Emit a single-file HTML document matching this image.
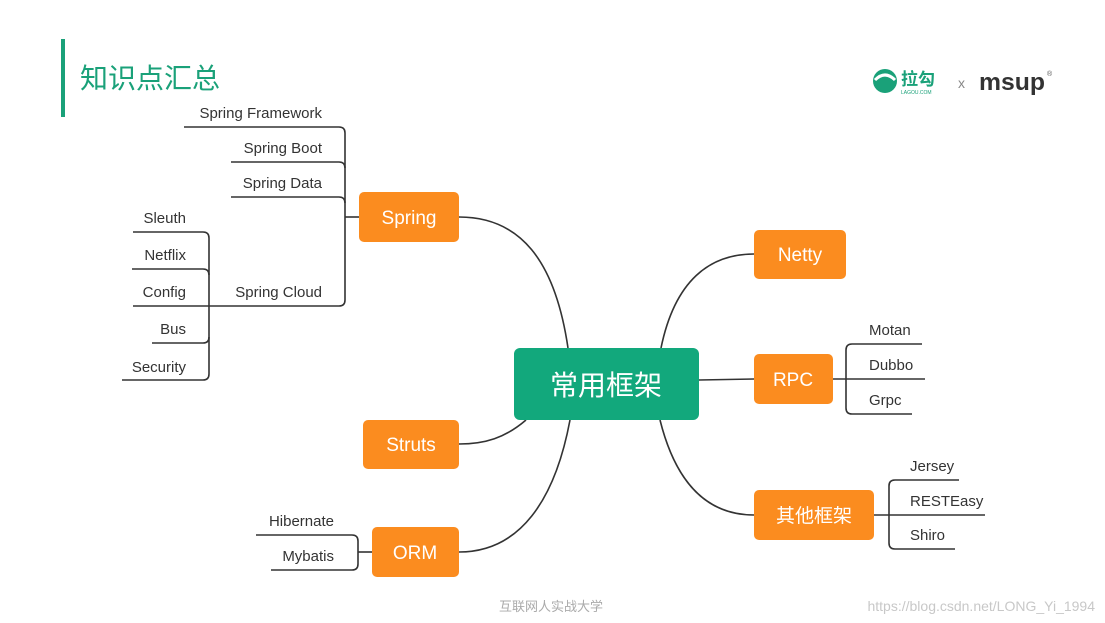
<!DOCTYPE html>
<html><head><meta charset="utf-8"><style>
html,body{margin:0;padding:0;background:#fff;width:1105px;height:623px;overflow:hidden}
svg{display:block}
text{font-family:"Liberation Sans","Noto Sans CJK SC",sans-serif}
.l{font-size:15px;fill:#333}
.b{font-size:19px;fill:#fff}
</style></head><body>
<svg width="1105" height="623" viewBox="0 0 1105 623">
<rect x="61" y="39" width="4" height="78" fill="#1aa179"/>
<text x="80" y="88" font-size="28" fill="#1aa179">知识点汇总</text>
<!-- logo -->
<circle cx="885" cy="81" r="12" fill="#1aa179"/>
<path d="M875 80 Q885 70 895 80" stroke="#fff" stroke-width="3" fill="none"/>
<text x="901" y="85" font-size="17" fill="#1aa179" font-weight="bold">拉勾</text>
<text x="901" y="94" font-size="5" fill="#1aa179">LAGOU.COM</text>
<text x="958" y="88" font-size="14" fill="#888">x</text>
<text x="979" y="90" font-size="24" fill="#333" font-weight="bold" textLength="66" lengthAdjust="spacingAndGlyphs">msup</text>
<text x="1047" y="76" font-size="7" fill="#555">®</text>

<g fill="none" stroke="#333" stroke-width="1.6">
<path d="M184 127 H339 Q345 127 345 133 V300 Q345 306 339 306 H133"/>
<path d="M231 162 H339 Q345 162 345 168"/>
<path d="M231 197 H339 Q345 197 345 203"/>
<path d="M345 217 H359"/>
<path d="M133 232 H203 Q209 232 209 238 V374 Q209 380 203 380 H122"/>
<path d="M132 269 H203 Q209 269 209 275"/>
<path d="M152 343 H203 Q209 343 209 337"/>
<path d="M256 535 H352 Q358 535 358 541 V564 Q358 570 352 570 H271"/>
<path d="M358 552 H372"/>
<path d="M922 344 H852 Q846 344 846 350 V408 Q846 414 852 414 H912"/>
<path d="M833 379 H925"/>
<path d="M959 480 H895 Q889 480 889 486 V543 Q889 549 895 549 H955"/>
<path d="M874 515 H985"/>
<path d="M568 348 C555 260 520 217 459 217"/>
<path d="M526 420 C505 438 485 444 459 444"/>
<path d="M570 420 C555 500 520 552 459 552"/>
<path d="M661 348 C675 280 710 254 754 254"/>
<path d="M699 380 L754 379"/>
<path d="M660 420 C675 480 705 515 754 515"/>
</g>

<rect x="514" y="348" width="185" height="72" rx="6" fill="#12a87c"/>
<text x="606" y="395" font-size="28" fill="#fff" text-anchor="middle">常用框架</text>

<g fill="#fb8c1f">
<rect x="359" y="192" width="100" height="50" rx="5"/>
<rect x="363" y="420" width="96" height="49" rx="5"/>
<rect x="372" y="527" width="87" height="50" rx="5"/>
<rect x="754" y="230" width="92" height="49" rx="5"/>
<rect x="754" y="354" width="79" height="50" rx="5"/>
<rect x="754" y="490" width="120" height="50" rx="5"/>
</g>
<g text-anchor="middle">
<text x="409" y="224" class="b">Spring</text>
<text x="411" y="451" class="b">Struts</text>
<text x="415" y="559" class="b">ORM</text>
<text x="800" y="261" class="b">Netty</text>
<text x="793" y="386" class="b">RPC</text>
<text x="814" y="522" class="b">其他框架</text>
</g>

<g>
<text x="322" y="118" text-anchor="end" class="l">Spring Framework</text>
<text x="322" y="153" text-anchor="end" class="l">Spring Boot</text>
<text x="322" y="188" text-anchor="end" class="l">Spring Data</text>
<text x="322" y="297" text-anchor="end" class="l">Spring Cloud</text>
<text x="186" y="223" text-anchor="end" class="l">Sleuth</text>
<text x="186" y="260" text-anchor="end" class="l">Netflix</text>
<text x="186" y="297" text-anchor="end" class="l">Config</text>
<text x="186" y="334" text-anchor="end" class="l">Bus</text>
<text x="186" y="372" text-anchor="end" class="l">Security</text>
<text x="334" y="526" text-anchor="end" class="l">Hibernate</text>
<text x="334" y="561" text-anchor="end" class="l">Mybatis</text>
<text x="869" y="335" class="l">Motan</text>
<text x="869" y="370" class="l">Dubbo</text>
<text x="869" y="405" class="l">Grpc</text>
<text x="910" y="471" class="l">Jersey</text>
<text x="910" y="506" class="l">RESTEasy</text>
<text x="910" y="540" class="l">Shiro</text>
</g>
<text x="551" y="611" font-size="13" fill="#aaa" text-anchor="middle">互联网人实战大学</text>
<text x="1095" y="611" font-size="14" fill="#c8c8c8" text-anchor="end">https://blog.csdn.net/LONG_Yi_1994</text>
</svg>
</body></html>
